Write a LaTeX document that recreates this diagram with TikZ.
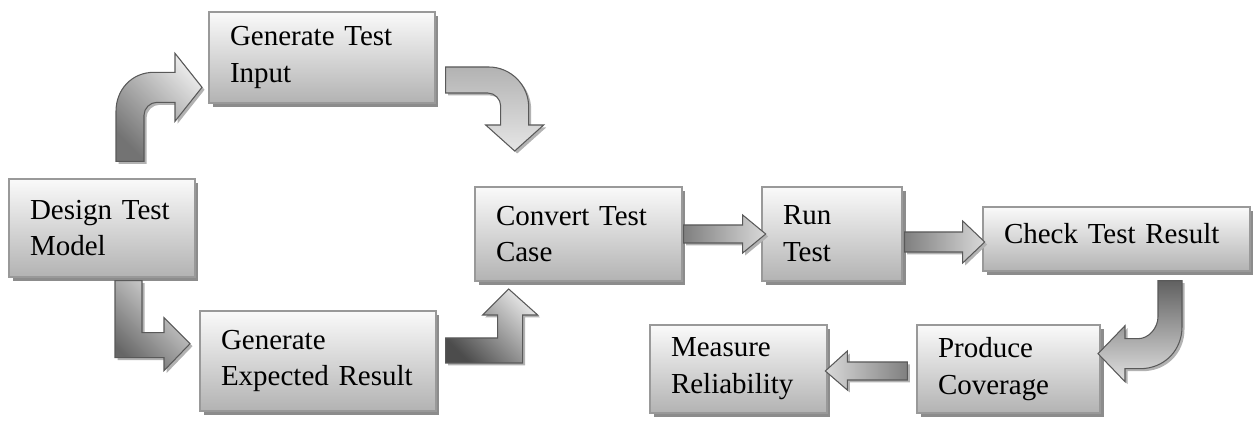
\documentclass[tikz,border=0pt]{standalone}
\usepackage{fontspec}
\setmainfont{Liberation Serif}
\usepackage{tikz}
\usetikzlibrary{shadows}
\tikzset{
    process/.style={
           rectangle,
           draw=black!40, line width=0.8pt,
           top color=black!2, bottom color=black!30,
           general shadow={fill=black!45, shadow xshift=0.07cm, shadow yshift=-0.08cm},
           inner xsep=0.42cm, inner ysep=0pt,
           align=left,
           font=\fontsize{16.5pt}{21pt}\selectfont,
           },
    blockarrow/.style={
           draw=black!65, line width=0.6pt,
           general shadow={fill=black!30, shadow xshift=0.05cm, shadow yshift=-0.05cm},
           },
}

\begin{document}
\begin{tikzpicture}[x=0.02cm, y=-0.02cm]
  \useasboundingbox (0,0) rectangle (1253,421);

  \node[process, text width=2.88cm, minimum height=1.96cm] (Design)      at (102,228)   {Design Test\\Model};
  \node[process, text width=3.68cm, minimum height=1.82cm] (GenInput)    at (322,57.5)  {Generate Test\\Input};
  \node[process, text width=3.88cm, minimum height=2.00cm] (GenExpected) at (318,361)   {Generate\\Expected Result};
  \node[process, text width=3.30cm, minimum height=1.88cm] (Convert)     at (578.5,234) {Convert Test\\Case};
  \node[process, text width=1.96cm, minimum height=1.88cm] (Run)         at (832,234)   {Run\\Test};
  \node[process, text width=4.50cm, minimum height=1.28cm, text depth=0.24cm] (Check) at (1116.5,239){Check Test Result};
  \node[process, text width=2.70cm, minimum height=1.76cm] (Measure)     at (738.5,369) {Measure\\Reliability};
  \node[process, text width=2.82cm, minimum height=1.76cm] (Produce)     at (1008.5,369){Produce\\Coverage};

  % bent arrows
  \begin{scope}[shift={(Design.north)}]
    \path[blockarrow, top color=black!8, bottom color=black!55, shading angle=-45]
      (14,-17) -- (14,-67) .. controls (14,-89) and (30,-106) .. (52,-106) -- (73,-106) -- (73,-125)
      -- (100,-91) -- (73,-57) -- (73,-76) -- (55,-76) .. controls (48,-76) and (42,-70) .. (42,-63)
      -- (42,-17) -- cycle;
  \end{scope}
  \begin{scope}[shift={(GenInput.east)}]
    \path[blockarrow, top color=black!30, bottom color=black!10]
      (10,9.5) -- (53,9.5) .. controls (75,9.5) and (93,27.5) .. (93,49.5) -- (93,67.5) -- (108,67.5)
      -- (79,93.5) -- (50,67.5) -- (65,67.5) -- (65,48.5) .. controls (65,41.5) and (59,35.5) .. (52,35.5)
      -- (10,35.5) -- cycle;
  \end{scope}
  \begin{scope}[shift={(Design.south)}]
    \path[blockarrow, top color=black!12, bottom color=black!60, shading angle=-45]
      (13,3) -- (13,80) -- (62,80) -- (62,93) -- (88,66) -- (62,40) -- (62,55) -- (40,55) -- (40,3) -- cycle;
  \end{scope}
  \begin{scope}[shift={(GenExpected.east)}]
    \path[blockarrow, top color=black!10, bottom color=black!70, shading angle=-45]
      (9,-23) -- (61,-23) -- (61,-46) -- (46,-46) -- (72,-72) -- (101,-46) -- (86,-46) -- (86,2) -- (9,2) -- cycle;
  \end{scope}
  \begin{scope}[shift={(Check.south)}]
    \path[blockarrow, top color=black!62, bottom color=black!12]
      (41.5,9) -- (41.5,45) .. controls (41.5,56) and (32.5,67) .. (21.5,67) -- (8.5,67) -- (8.5,54)
      -- (-18.5,82) -- (8.5,110) -- (8.5,97) -- (23.5,97) .. controls (47.5,97) and (65.5,79) .. (65.5,55)
      -- (65.5,9) -- cycle;
  \end{scope}

  % straight arrows
  \begin{scope}[shift={(Convert.east)}]
    \path[blockarrow, left color=black!50, right color=black!15]
      (1,-9) -- (60,-9) -- (60,-19) -- (83,0) -- (60,19) -- (60,9) -- (1,9) -- cycle;
  \end{scope}
  \begin{scope}[shift={(Run.east)}]
    \path[blockarrow, left color=black!50, right color=black!15]
      (2,-2) -- (60,-2) -- (60,-13) -- (82,8) -- (60,29) -- (60,18) -- (2,18) -- cycle;
  \end{scope}
  \begin{scope}[shift={(Produce.west)}]
    \path[blockarrow, left color=black!15, right color=black!50]
      (-9,-7) -- (-69,-7) -- (-69,-18) -- (-91,2) -- (-69,21) -- (-69,11) -- (-9,11) -- cycle;
  \end{scope}

\end{tikzpicture}
\end{document}
